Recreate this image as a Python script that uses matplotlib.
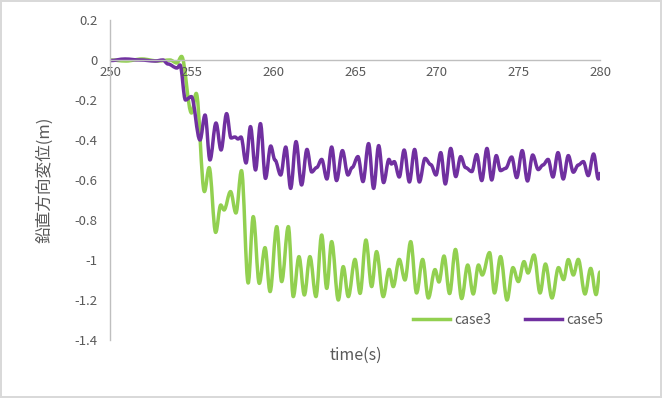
import matplotlib
matplotlib.use("Agg")
import matplotlib.pyplot as plt
from matplotlib.path import Path
from matplotlib.patches import PathPatch
from matplotlib.lines import Line2D

plt.rcParams['font.family'] = ['Noto Sans CJK JP', 'DejaVu Sans']

# case3 (green) – peaks / troughs
t3 = [250.00, 250.98, 251.96, 252.94, 253.67, 254.10, 254.38, 254.99, 255.28, 255.78,
      256.07, 256.47, 256.78, 256.98, 257.38, 257.71, 258.05, 258.46, 258.77, 259.14,
      259.49, 259.80, 260.21, 260.51, 260.92, 261.22, 261.57, 261.90, 262.24, 262.61,
      262.96, 263.27, 263.57, 263.98, 264.28, 264.59, 265.00, 265.31, 265.67, 266.02,
      266.32, 266.73, 267.09, 267.34, 267.71, 268.06, 268.41, 268.77, 269.14, 269.49,
      269.90, 270.14, 270.45, 270.79, 271.15, 271.53, 271.90, 272.24, 272.56, 272.79,
      273.24, 273.54, 273.91, 274.31, 274.67, 275.00, 275.35, 275.59, 275.96, 276.33,
      276.66, 277.06, 277.46, 277.77, 278.06, 278.37, 278.67, 279.08, 279.43, 279.76,
      280.00]
v3 = [0.000, -0.005, 0.005, -0.005, 0.000, -0.015, 0.018, -0.265, -0.167, -0.658,
      -0.538, -0.862, -0.725, -0.750, -0.658, -0.765, -0.553, -1.115, -0.783, -1.117,
      -0.938, -1.158, -0.833, -1.108, -0.833, -1.183, -0.983, -1.175, -0.983, -1.183,
      -0.875, -1.142, -0.908, -1.200, -1.033, -1.183, -0.997, -1.167, -0.900, -1.133,
      -0.958, -1.183, -1.047, -1.133, -0.997, -1.100, -0.908, -1.165, -0.997, -1.190,
      -1.048, -1.110, -0.980, -1.168, -0.947, -1.193, -1.025, -1.170, -1.025, -1.075,
      -0.963, -1.165, -0.983, -1.200, -1.038, -1.108, -1.008, -1.065, -0.975, -1.165,
      -1.020, -1.190, -1.038, -1.098, -0.998, -1.075, -0.997, -1.170, -1.042, -1.173,
      -1.060]

# case5 (purple)
t5 = [250.00, 250.92, 251.84, 252.76, 253.24, 253.55, 254.10, 254.29, 254.62, 254.98,
      255.51, 255.82, 256.12, 256.49, 256.80, 257.14, 257.41, 257.65, 257.84, 258.02,
      258.33, 258.60, 258.91, 259.21, 259.52, 259.84, 260.10, 260.45, 260.76, 261.06,
      261.39, 261.73, 262.06, 262.35, 262.65, 262.96, 263.28, 263.57, 263.87, 264.23,
      264.57, 264.82, 265.18, 265.49, 265.83, 266.14, 266.45, 266.75, 267.08, 267.23,
      267.40, 267.71, 268.01, 268.33, 268.65, 268.94, 269.29, 269.64, 269.96, 270.25,
      270.53, 270.86, 271.17, 271.47, 271.77, 272.15, 272.45, 272.76, 273.08, 273.37,
      273.65, 273.91, 274.22, 274.59, 274.90, 275.24, 275.56, 275.88, 276.22, 276.51,
      276.82, 277.12, 277.43, 277.75, 278.06, 278.37, 278.67, 278.98, 279.28, 279.61,
      279.90, 280.00]
v5 = [-0.003, 0.005, 0.000, -0.005, 0.000, -0.020, -0.040, -0.025, -0.200, -0.183,
      -0.400, -0.275, -0.500, -0.315, -0.450, -0.268, -0.390, -0.385, -0.395, -0.385,
      -0.515, -0.333, -0.550, -0.318, -0.592, -0.430, -0.500, -0.575, -0.435, -0.642,
      -0.408, -0.625, -0.447, -0.560, -0.538, -0.497, -0.595, -0.435, -0.603, -0.453,
      -0.575, -0.538, -0.483, -0.608, -0.418, -0.642, -0.428, -0.613, -0.497, -0.520,
      -0.508, -0.585, -0.450, -0.610, -0.447, -0.610, -0.492, -0.523, -0.575, -0.463,
      -0.620, -0.442, -0.583, -0.483, -0.538, -0.558, -0.473, -0.603, -0.442, -0.600,
      -0.478, -0.553, -0.542, -0.485, -0.588, -0.453, -0.605, -0.475, -0.548, -0.525,
      -0.497, -0.585, -0.463, -0.595, -0.478, -0.561, -0.525, -0.508, -0.578, -0.470,
      -0.595, -0.567]

series = [("case3", t3, v3, "#92D050"), ("case5", t5, v5, "#7030A0")]
yticks = [0.2, 0, -0.2, -0.4, -0.6, -0.8, -1, -1.2, -1.4]
xticks = [250, 255, 260, 265, 270, 275, 280]
txt = "#595959"


def smooth_path(t, v, k=0.36):
    # cubic segments with flat tangents at every read point
    verts = [(t[0], v[0])]
    codes = [Path.MOVETO]
    for i in range(1, len(t)):
        dt = t[i] - t[i - 1]
        verts += [(t[i - 1] + k * dt, v[i - 1]), (t[i] - k * dt, v[i]), (t[i], v[i])]
        codes += [Path.CURVE4] * 3
    return Path(verts, codes)


fig = plt.figure(figsize=(6.62, 3.98), dpi=100)
fig.patch.set_edgecolor("#D9D9D9")
fig.patch.set_linewidth(1.5)
ax = fig.add_axes([110 / 662, 1 - 340 / 398, 490 / 662, 320 / 398])

handles = []
for name, t, v, c in series:
    ax.add_patch(PathPatch(smooth_path(t, v), fill=False, edgecolor=c, lw=2.5,
                           capstyle="round", joinstyle="round"))
    handles.append(Line2D([], [], color=c, lw=2.5, label=name))

ax.set_xlim(250, 280)
ax.set_ylim(-1.4, 0.2)
ax.set_xticks(xticks)
ax.set_xticklabels([str(x) for x in xticks])
ax.set_yticks(yticks)
ax.set_yticklabels(["0.2", "0", "-0.2", "-0.4", "-0.6", "-0.8", "-1", "-1.2", "-1.4"])
ax.spines["top"].set_visible(False)
ax.spines["right"].set_visible(False)
ax.spines["bottom"].set_position(("data", 0))
for s in ("left", "bottom"):
    ax.spines[s].set_color("#BFBFBF")
    ax.spines[s].set_linewidth(1.0)
ax.tick_params(axis="both", length=0, labelsize=9.5, labelcolor=txt)
ax.tick_params(axis="y", pad=9)
ax.tick_params(axis="x", pad=4)

fig.text(45 / 662, 1 - 180 / 398, "鉛直方向変位(m)", rotation=90, ha="center",
         va="center", fontsize=12, color=txt)
fig.text(356 / 662, 1 - 355 / 398, "time(s)", ha="center", va="center",
         fontsize=11.5, color=txt)
fig.legend(handles=handles, loc="center", bbox_to_anchor=(508 / 662, 1 - 320 / 398),
           ncol=2, frameon=False, fontsize=10, labelcolor=txt, handlelength=2.7,
           columnspacing=2.4, handletextpad=0.3)

fig.savefig("out.png", dpi=100)
